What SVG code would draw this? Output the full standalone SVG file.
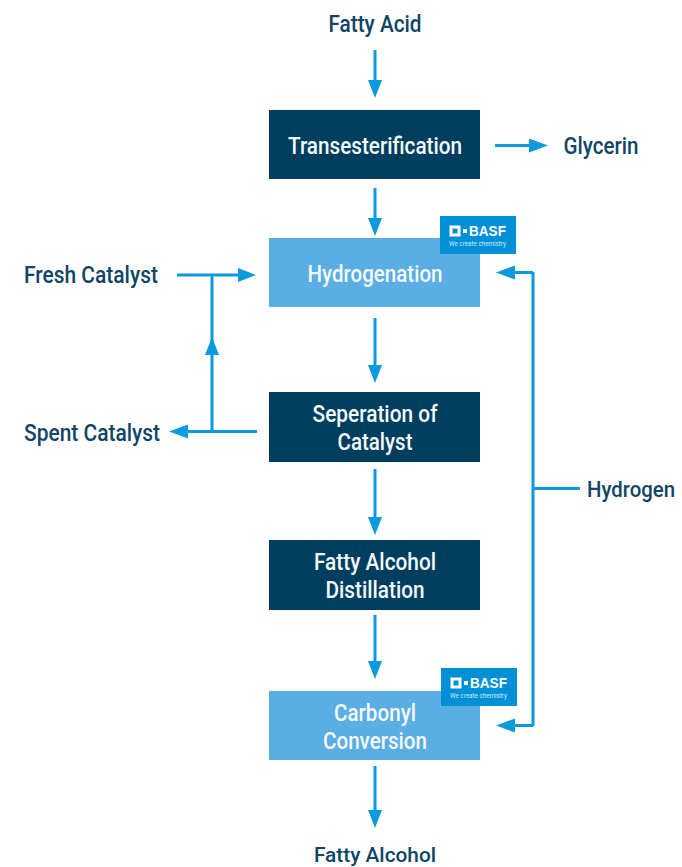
<svg xmlns="http://www.w3.org/2000/svg" width="682" height="867" viewBox="0 0 682 867">
<style>
text{font-family:"Roboto","Liberation Sans",sans-serif;font-weight:500;font-size:23px;text-anchor:middle}
.l{fill:#0f4566}
.w{fill:#f4fafd}
.dark{fill:#003e5f}
.light{fill:#5baee3}
.c{fill:none;stroke:#0b9ade;stroke-width:3}
.h{fill:#0b9ade}
.b{fill:#0090d7}
.bt{fill:#fff;font-size:14px;font-weight:700;text-anchor:start;font-family:"Liberation Sans",sans-serif}
.bs{fill:#cfeaf8;font-size:6.5px;font-weight:400;text-anchor:start}
</style>
<rect width="682" height="867" fill="#fff"/>
<g id="connectors">
<path class="c" d="M375 50V82M375 188V220M375 318V367M375 469V519M375 615V663M375 766V812M495 145.500H532M177 275H240M212 275V431.500M257 431.500H185M533 272.500H511M533 272V726M533 725.500H511M580 488.500H533"/>
<path class="h" d="M368 80H382L375 98ZM368 218H382L375 236ZM368 365H382L375 383ZM368 517H382L375 535ZM368 661H382L375 679ZM368 810H382L375 828ZM529 138.500V152.500L548 145.500ZM238 268V282L256 275ZM205 355H219L212 337ZM188 424.500V438.500L169 431.500ZM515 265.500V279.500L496 272.500ZM515 718.500V732.500L496 725.500Z"/>
</g>
<g id="fatty-acid"><text class="l" x="375" y="32" textLength="93" lengthAdjust="spacingAndGlyphs">Fatty Acid</text></g>
<g id="transesterification"><rect class="dark" x="269" y="110" width="211" height="69"/><text class="w" x="375" y="154" textLength="174" lengthAdjust="spacingAndGlyphs">Transesterification</text></g>
<g id="glycerin"><text class="l" x="601" y="154" textLength="75" lengthAdjust="spacingAndGlyphs">Glycerin</text></g>
<g id="hydrogenation"><rect class="light" x="269" y="238" width="211" height="69"/><text class="w" x="375" y="282" textLength="135" lengthAdjust="spacingAndGlyphs">Hydrogenation</text></g>
<g id="basf-1"><rect class="b" x="440" y="216" width="76" height="38"/><rect x="451" y="227" width="8" height="8" fill="none" stroke="#fff" stroke-width="3"/><rect x="463" y="229" width="4" height="4" fill="#fff"/><text class="bt" x="469" y="236" textLength="37" lengthAdjust="spacingAndGlyphs">BASF</text><text class="bs" x="449" y="246" textLength="57" lengthAdjust="spacingAndGlyphs">We create chemistry</text></g>
<g id="fresh-catalyst"><text class="l" x="91" y="283" textLength="134" lengthAdjust="spacingAndGlyphs">Fresh Catalyst</text></g>
<g id="spent-catalyst"><text class="l" x="92" y="441" textLength="136" lengthAdjust="spacingAndGlyphs">Spent Catalyst</text></g>
<g id="separation"><rect class="dark" x="269" y="392" width="211" height="70"/><text class="w" x="375" y="422" textLength="125" lengthAdjust="spacingAndGlyphs">Seperation of</text><text class="w" x="375" y="450" textLength="75" lengthAdjust="spacingAndGlyphs">Catalyst</text></g>
<g id="hydrogen"><text class="l" x="631" y="497" style="font-size:22px" textLength="88" lengthAdjust="spacingAndGlyphs">Hydrogen</text></g>
<g id="distillation"><rect class="dark" x="269" y="540" width="211" height="70"/><text class="w" x="375" y="570" textLength="122" lengthAdjust="spacingAndGlyphs">Fatty Alcohol</text><text class="w" x="375" y="598" textLength="99" lengthAdjust="spacingAndGlyphs">Distillation</text></g>
<g id="carbonyl"><rect class="light" x="269" y="691" width="211" height="69"/><text class="w" x="375" y="721" textLength="82" lengthAdjust="spacingAndGlyphs">Carbonyl</text><text class="w" x="375" y="749" textLength="104" lengthAdjust="spacingAndGlyphs">Conversion</text></g>
<g id="basf-2"><rect class="b" x="441" y="668" width="76" height="38"/><rect x="452" y="679" width="8" height="8" fill="none" stroke="#fff" stroke-width="3"/><rect x="464" y="681" width="4" height="4" fill="#fff"/><text class="bt" x="470" y="688" textLength="37" lengthAdjust="spacingAndGlyphs">BASF</text><text class="bs" x="450" y="698" textLength="57" lengthAdjust="spacingAndGlyphs">We create chemistry</text></g>
<g id="fatty-alcohol"><text class="l" x="375" y="862" style="font-size:21px" textLength="122" lengthAdjust="spacingAndGlyphs">Fatty Alcohol</text></g>
</svg>
